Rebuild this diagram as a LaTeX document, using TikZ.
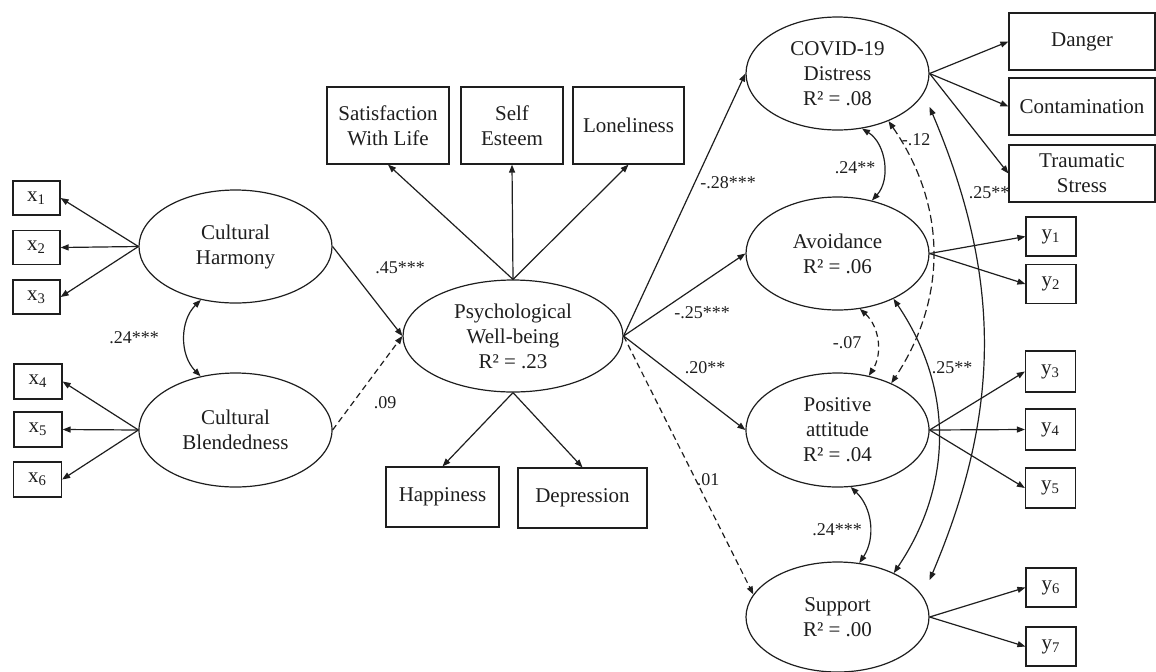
\documentclass[tikz,border=0pt]{standalone}
\usepackage{fontspec}
\setmainfont{Liberation Serif}
\usepackage{tikz}
\usetikzlibrary{shapes.geometric,arrows.meta}
\definecolor{semink}{HTML}{1E1E1E}
\tikzset{
  latent/.style = {ellipse, draw=semink, line width=0.6pt, align=center, inner sep=0pt,
                   text=semink, font=\fontsize{10.5}{12.5}\selectfont},
  ind/.style    = {rectangle, draw=semink, line width=0.6pt, align=center, inner sep=0pt,
                   text=semink, font=\fontsize{10.5}{12.5}\selectfont},
  xbox/.style   = {ind, minimum width=23.5pt, minimum height=17pt},
  ybox/.style   = {ind, minimum width=25pt, minimum height=19.5pt},
  regpath/.style = {-{Triangle[length=4pt,width=3pt]}, line width=0.6pt, draw=semink},
  corr/.style   = {{Triangle[length=4pt,width=3pt]}-{Triangle[length=4pt,width=3pt]},
                   line width=0.6pt, draw=semink},
  ns/.style     = {dash pattern=on 3pt off 2pt},
  coef/.style   = {font=\fontsize{9}{10}\selectfont, text=semink, inner sep=0pt},
}

\begin{document}
\begin{tikzpicture}[x=0.5pt, y=-0.5pt]
\useasboundingbox (0,0) rectangle (1156,671);

% latent variables
\node[latent, minimum width=96.5pt, minimum height=56.5pt] (ch) at (235.5,246.5) {Cultural\\Harmony};
\node[latent, minimum width=96.5pt, minimum height=57pt] (cb) at (235.5,430) {Cultural\\Blendedness};
\node[latent, minimum width=110pt, minimum height=56pt] (pwb) at (513,336) {Psychological\\Well-being\\R² = .23};
\node[latent, minimum width=91.5pt, minimum height=56.5pt] (covid) at (837.5,73.5) {COVID-19\\Distress\\R² = .08};
\node[latent, minimum width=91.5pt, minimum height=56.5pt] (avoid) at (837.5,253.5) {Avoidance\\R² = .06};
\node[latent, minimum width=91.5pt, minimum height=57pt] (posatt) at (837.5,430) {Positive\\attitude\\R² = .04};
\node[latent, minimum width=91.5pt, minimum height=55pt] (support) at (837.5,617) {Support\\R² = .00};

% indicators
\node[xbox] (x1) at (36.5,198) {x\textsubscript{1}};
\node[xbox] (x2) at (36.5,247.5) {x\textsubscript{2}};
\node[xbox] (x3) at (36.5,297) {x\textsubscript{3}};
\node[xbox, minimum width=24pt, minimum height=17.5pt] (x4) at (38,381.5) {x\textsubscript{4}};
\node[xbox, minimum width=24pt, minimum height=17.5pt] (x5) at (38,429.5) {x\textsubscript{5}};
\node[xbox, minimum width=24pt, minimum height=17.5pt] (x6) at (37.5,479.5) {x\textsubscript{6}};

\node[ind, minimum width=61pt, minimum height=38.5pt] (swl) at (388,125.5) {Satisfaction\\With Life};
\node[ind, minimum width=51pt, minimum height=38.5pt] (se) at (512,125.5) {Self\\Esteem};
\node[ind, minimum width=55.5pt, minimum height=38.5pt] (lone) at (628.5,125.5) {Loneliness};
\node[ind, minimum width=56.5pt, minimum height=30pt] (hap) at (442.5,497) {Happiness};
\node[ind, minimum width=64.5pt, minimum height=30pt] (dep) at (582.5,498) {Depression};

\node[ind, minimum width=73pt, minimum height=28.5pt] (dan) at (1082,41.5) {Danger};
\node[ind, minimum width=73pt, minimum height=28.5pt] (con) at (1082,106.5) {Contamination};
\node[ind, minimum width=73pt, minimum height=28.5pt] (ts) at (1082,173.5) {Traumatic\\Stress};

\node[ybox] (y1) at (1051,236.5) {y\textsubscript{1}};
\node[ybox] (y2) at (1051,284) {y\textsubscript{2}};
\node[ybox, minimum height=20.5pt] (y3) at (1050.5,371.5) {y\textsubscript{3}};
\node[ybox, minimum height=20.5pt] (y4) at (1050.5,429.5) {y\textsubscript{4}};
\node[ybox, minimum height=20pt] (y5) at (1050.5,488) {y\textsubscript{5}};
\node[ybox] (y6) at (1051,587.5) {y\textsubscript{6}};
\node[ybox] (y7) at (1051,646.5) {y\textsubscript{7}};

% measurement paths
\foreach \i in {x1,x2,x3} \draw[regpath] (ch.west) -- (\i.east);
\foreach \i in {x4,x5,x6} \draw[regpath] (cb.west) -- (\i.east);
\foreach \i in {swl,se,lone} \draw[regpath] (pwb.north) -- (\i.south);
\foreach \i in {hap,dep} \draw[regpath] (pwb.south) -- (\i.north);
\foreach \i in {dan,con,ts} \draw[regpath] (covid.east) -- (\i.west);
\foreach \i in {y1,y2} \draw[regpath] (avoid.east) -- (\i.west);
\foreach \i in {y3,y4,y5} \draw[regpath] (posatt.east) -- (\i.west);
\foreach \i in {y6,y7} \draw[regpath] (support.east) -- (\i.west);

% structural paths
\draw[regpath] (ch.east) -- (pwb.west);
\draw[regpath, ns] (cb.east) -- (pwb.west);
\draw[regpath] (pwb.east) -- (covid.west);
\draw[regpath] (pwb.east) -- (avoid.west);
\draw[regpath] (pwb.east) -- (posatt.west);
\draw[regpath, ns] (pwb.east) -- (support.165);

% covariances
\draw[corr] (ch.237) to[bend right=45] (cb.123);
\draw[corr] (covid.294) to[bend left=50] (avoid.57);
\draw[corr, dash pattern=on 4pt off 2pt] (covid.317) to[bend left=34] (posatt.41);
\draw[corr] (avoid.321) to[bend left=34] (support.38);
\draw[corr] ([yshift=-16.75pt]covid.east) to[bend left=23] ([yshift=18.5pt]support.east);
\draw[corr, ns] (avoid.292) to[bend left=40] (posatt.60);
\draw[corr] (posatt.283) to[bend left=40] (support.68);

% coefficients
\node[coef] (k45) at (400,268) {.45***};
\node[coef] (k09) at (385,403) {.09};
\node[coef] (kchcb) at (134,338) {.24***};
\node[coef] (k28) at (728,183) {-.28***};
\node[coef] (k25) at (702,313) {-.25***};
\node[coef] (k20) at (705,368) {.20**};
\node[coef] (k01) at (708,480) {.01};
\node[coef] (kcova) at (855,168) {.24**};
\node[coef] (kcopo) at (916,140) {-.12};
\node[coef] (kavpo) at (847,343) {-.07};
\node[coef] (kavsu) at (952,368) {.25**};
\node[coef] (kcosu) at (989,193) {.25**};
\node[coef] (kposu) at (837,530) {.24***};
\end{tikzpicture}
\end{document}
